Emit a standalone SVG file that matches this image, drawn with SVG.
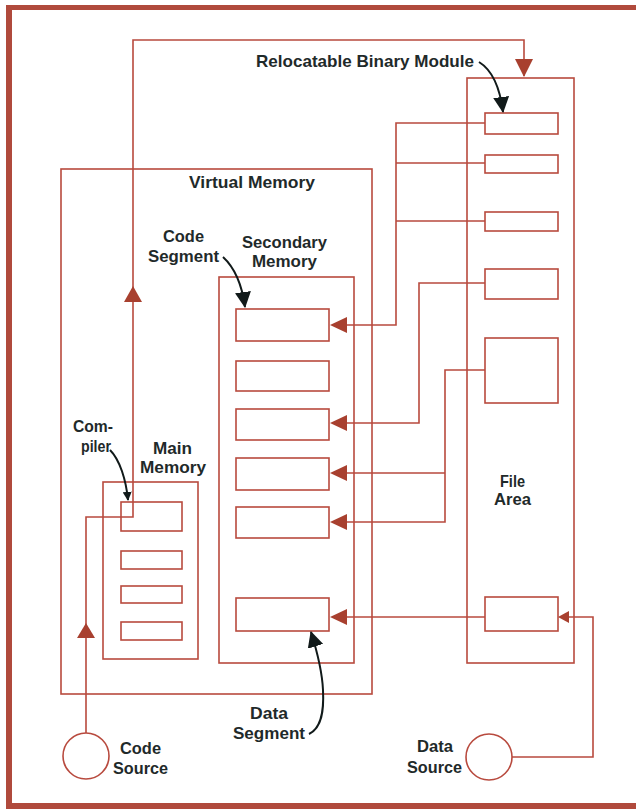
<svg xmlns="http://www.w3.org/2000/svg" width="636" height="810" viewBox="0 0 636 810">
<defs>
<style>
.box{fill:none;stroke:#b84a3e;stroke-width:1.6}
.ln{fill:none;stroke:#b84a3e;stroke-width:1.6}
.ah{fill:#a8402f}
.bk{fill:none;stroke:#111a1a;stroke-width:2}
.t{font-family:"Liberation Sans",Arial,sans-serif;font-size:17px;font-weight:bold;fill:#1f2a2a}
.frame{fill:#b04a3c}
</style>
<marker id="bh" viewBox="0 0 16 16" refX="15" refY="8" markerWidth="16" markerHeight="16" markerUnits="userSpaceOnUse" orient="auto">
<path d="M0,0 L16,8 L0,16 Z" fill="#111a1a"/>
</marker>
<marker id="bhs" viewBox="0 0 10 10" refX="9" refY="5" markerWidth="9" markerHeight="9" markerUnits="userSpaceOnUse" orient="auto">
<path d="M0,0 L10,5 L0,10 Z" fill="#111a1a"/>
</marker>
</defs>
<rect width="636" height="810" fill="#ffffff"/>
<g id="frame">
<rect class="frame" x="6" y="5" width="630" height="5"/>
<rect class="frame" x="6" y="5" width="6" height="804"/>
<rect class="frame" x="6" y="803" width="630" height="6"/>
</g>
<g id="virtual-memory">
<rect class="box" x="61" y="169" width="311" height="525"/>
<text class="t" x="189" y="188" textLength="126" lengthAdjust="spacingAndGlyphs">Virtual Memory</text>
</g>
<g id="secondary-memory">
<rect class="box" x="219" y="277" width="135" height="386"/>
<text class="t" x="242" y="248" textLength="85" lengthAdjust="spacingAndGlyphs">Secondary</text>
<text class="t" x="252" y="267" textLength="65" lengthAdjust="spacingAndGlyphs">Memory</text>
<rect class="box" x="236" y="309" width="93" height="32"/>
<rect class="box" x="236" y="361" width="93" height="30"/>
<rect class="box" x="236" y="409" width="93" height="31"/>
<rect class="box" x="236" y="458" width="93" height="32"/>
<rect class="box" x="236" y="507" width="93" height="31"/>
<rect class="box" x="236" y="598" width="93" height="33"/>
</g>
<g id="main-memory">
<rect class="box" x="103" y="482" width="95" height="177"/>
<text class="t" x="153" y="454" textLength="39" lengthAdjust="spacingAndGlyphs">Main</text>
<text class="t" x="140" y="473" textLength="66" lengthAdjust="spacingAndGlyphs">Memory</text>
<rect class="box" x="121" y="502" width="61" height="29"/>
<rect class="box" x="121" y="551" width="61" height="18"/>
<rect class="box" x="121" y="586" width="61" height="17"/>
<rect class="box" x="121" y="622" width="61" height="18"/>
</g>
<g id="file-area">
<rect class="box" x="467" y="78" width="107" height="585"/>
<text class="t" x="500" y="487" textLength="25" lengthAdjust="spacingAndGlyphs">File</text>
<text class="t" x="494" y="505" textLength="37" lengthAdjust="spacingAndGlyphs">Area</text>
<rect class="box" x="485" y="113" width="73" height="21"/>
<rect class="box" x="485" y="155" width="73" height="18"/>
<rect class="box" x="485" y="212" width="73" height="19"/>
<rect class="box" x="485" y="269" width="73" height="30"/>
<rect class="box" x="485" y="338" width="73" height="65"/>
<rect class="box" x="485" y="597" width="73" height="34"/>
</g>
<g id="code-source">
<circle class="box" cx="86" cy="756" r="23"/>
<text class="t" x="120" y="754" textLength="41" lengthAdjust="spacingAndGlyphs">Code</text>
<text class="t" x="113" y="774" textLength="55" lengthAdjust="spacingAndGlyphs">Source</text>
</g>
<g id="data-source">
<circle class="box" cx="489" cy="757" r="23"/>
<text class="t" x="417" y="752" textLength="36" lengthAdjust="spacingAndGlyphs">Data</text>
<text class="t" x="407" y="773" textLength="55" lengthAdjust="spacingAndGlyphs">Source</text>
</g>
<g id="labels">
<text class="t" x="256" y="67" textLength="218" lengthAdjust="spacingAndGlyphs">Relocatable Binary Module</text>
<text class="t" x="163" y="242" textLength="41" lengthAdjust="spacingAndGlyphs">Code</text>
<text class="t" x="148" y="262" textLength="71" lengthAdjust="spacingAndGlyphs">Segment</text>
<text class="t" x="73" y="432" textLength="40" lengthAdjust="spacingAndGlyphs">Com-</text>
<text class="t" x="81" y="452" textLength="30" lengthAdjust="spacingAndGlyphs">piler</text>
<text class="t" x="250" y="719" textLength="38" lengthAdjust="spacingAndGlyphs">Data</text>
<text class="t" x="233" y="739" textLength="72" lengthAdjust="spacingAndGlyphs">Segment</text>
</g>
<g id="connectors">
<path class="ln" d="M86,733 V517 H133 V40 H524 V76"/>
<path class="ln" d="M485,123 H396 V325 H340 M485,163 H396 M485,221 H396"/>
<path class="ln" d="M485,283 H419 V423 H340"/>
<path class="ln" d="M485,370 H445 V522 H340 M445,473 H340"/>
<path class="ln" d="M485,617 H340"/>
<path class="ln" d="M512,757 H593 V617 H566"/>
<polygon class="ah" points="86,623 77,638 95,638"/>
<polygon class="ah" points="133,286 124,302 142,302"/>
<polygon class="ah" points="524,77 515,59 533,59"/>
<polygon class="ah" points="330,325 347,317 347,333"/>
<polygon class="ah" points="330,423 347,415 347,431"/>
<polygon class="ah" points="330,473 347,465 347,481"/>
<polygon class="ah" points="330,522 347,514 347,530"/>
<polygon class="ah" points="330,617 347,609 347,625"/>
<polygon class="ah" points="558,617 569,611 569,623"/>
<path class="bk" d="M479,62 C492,70 500,88 503,112" marker-end="url(#bh)"/>
<path class="bk" d="M223,257 C235,268 242,285 245,307" marker-end="url(#bh)"/>
<path class="bk" d="M110,450 C120,460 126,480 128,500" marker-end="url(#bhs)"/>
<path class="bk" d="M309,734 C322,728 324,710 323,690 C322,668 316,648 311,632" marker-end="url(#bh)"/>
</g>
</svg>
